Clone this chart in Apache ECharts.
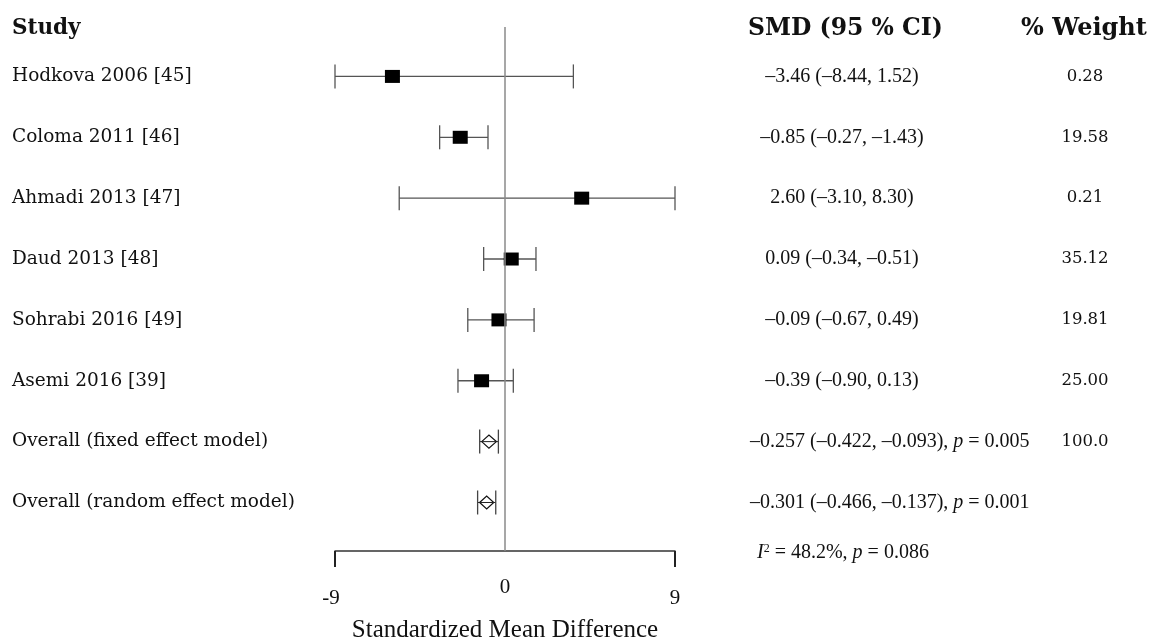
<!DOCTYPE html>
<html>
<head>
<meta charset="utf-8">
<script src="https://cdn.jsdelivr.net/npm/echarts@6/dist/echarts.min.js"></script>
<style>html,body{margin:0;padding:0;background:#fff}#c{width:1150px;height:641px}</style>
</head>
<body>
<div id="c"></div>
<script>
// ---- data ----
const studies = ['Hodkova 2006 [45]', 'Coloma 2011 [46]', 'Ahmadi 2013 [47]', 'Daud 2013 [48]', 'Sohrabi 2016 [49]', 'Asemi 2016 [39]'];
const smdPoint = [-5.96, -2.37, 4.06, 0.33, -0.32, -1.24];
const ciLow = [-9.0, -3.46, -5.60, -1.13, -1.97, -2.49];
const ciHigh = [3.62, -0.90, 9.0, 1.64, 1.54, 0.44];
const smdText = ['–3.46 (–8.44, 1.52)', '–0.85 (–0.27, –1.43)', '2.60 (–3.10, 8.30)', '0.09 (–0.34, –0.51)', '–0.09 (–0.67, 0.49)', '–0.39 (–0.90, 0.13)'];
const weightText = ['0.28', '19.58', '0.21', '35.12', '19.81', '25.00', '100.0'];
const summaryNames = ['Overall (fixed effect model)', 'Overall (random effect model)'];
const summaryPoint = [-0.85, -0.97];
const summaryLow = [-1.34, -1.45];
const summaryHigh = [-0.35, -0.49];
const summaryEst = ['–0.257 (–0.422, –0.093), ', '–0.301 (–0.466, –0.137), '];
const summaryP = ['0.005', '0.001'];
const heterogeneityI2 = '48.2%';
const heterogeneityP = '0.086';
const xTicks = [-9, 0, 9];
const xEndTicks = [-9, 9];
const headers = ['Study', 'SMD (95 % CI)', '% Weight'];
const axisTitle = 'Standardized Mean Difference';

// ---- build ----
const rowLabels = studies.concat(summaryNames);
const rowIdx = rowLabels.map((_, i) => i);
const studyData = studies.map((s, i) => [i, ciLow[i], ciHigh[i], smdPoint[i]]);
const summaryData = summaryNames.map((s, k) => [studies.length + k, summaryLow[k], summaryHigh[k], summaryPoint[k]]);

const serifT = 'Liberation Serif';
const serifW = 'DejaVu Serif';
const yMin = -0.812, yMax = 7.797;

function baseY(extra) {
  return Object.assign({
    type: 'value', inverse: true, min: yMin, max: yMax,
    axisLine: {show: false}, axisTick: {show: false}, splitLine: {show: false}
  }, extra);
}

const chart = echarts.init(document.getElementById('c'));
chart.setOption({
  backgroundColor: '#fff',
  animation: false,
  grid: {left: 335, right: 475, top: 27, bottom: 90, outerBoundsMode: 'none'},
  xAxis: {
    type: 'value', min: -9, max: 9,
    splitLine: {show: false},
    axisLine: {show: true, onZero: false, lineStyle: {color: '#333', width: 1.5}},
    axisTick: {show: true, customValues: xEndTicks, length: 16, lineStyle: {color: '#222', width: 2}},
    axisLabel: {
      customValues: xTicks, margin: 26, color: '#111',
      fontFamily: serifT, fontSize: 21,
      formatter: v => v === 0 ? '{z|0}' : (v < 0 ? '{l|' + v + '}' : '{r|' + v + '}'),
      rich: {
        z: {fontFamily: serifT, fontSize: 21, color: '#111'},
        l: {fontFamily: serifT, fontSize: 21, color: '#111', padding: [11, 8, 0, 0]},
        r: {fontFamily: serifT, fontSize: 21, color: '#111', padding: [11, 0, 0, 0]}
      }
    },
    name: axisTitle, nameLocation: 'middle', nameGap: 67,
    nameTextStyle: {fontFamily: serifT, fontSize: 25, color: '#111'}
  },
  yAxis: [
    baseY({
      position: 'left',
      axisLabel: {
        customValues: rowIdx, align: 'left', margin: 323,
        fontFamily: serifW, fontSize: 18.5, color: '#111',
        formatter: v => rowLabels[Math.round(v)] || ''
      }
    }),
    baseY({
      position: 'right',
      axisLabel: {
        customValues: rowIdx, align: 'left', margin: 75,
        fontFamily: serifT, fontSize: 20, color: '#111',
        formatter: v => {
          const i = Math.round(v);
          if (i < studies.length) return '{c|' + smdText[i] + '}';
          const k = i - studies.length;
          return '{n|' + summaryEst[k] + '}{i|p}{n| = ' + summaryP[k] + '}';
        },
        rich: {
          c: {width: 184, align: 'center', fontFamily: serifT, fontSize: 20, color: '#111'},
          n: {fontFamily: serifT, fontSize: 20, color: '#111'},
          i: {fontFamily: serifT, fontSize: 20, fontStyle: 'italic', color: '#111'}
        }
      }
    }),
    baseY({
      position: 'right',
      axisLabel: {
        customValues: rowIdx.slice(0, weightText.length), align: 'center', margin: 410,
        fontFamily: serifW, fontSize: 16.5, color: '#111',
        formatter: v => weightText[Math.round(v)] || ''
      }
    })
  ],
  graphic: [
    {type: 'text', left: 12, top: 17, style: {text: headers[0], font: 'bold 21.5px "DejaVu Serif"', fill: '#111'}},
    {type: 'text', left: 748, top: 17, style: {text: headers[1], font: 'bold 23.5px "DejaVu Serif"', fill: '#111'}},
    {type: 'text', left: 1021, top: 17, style: {text: headers[2], font: 'bold 24px "DejaVu Serif"', fill: '#111'}},
    {type: 'text', left: 757, top: 543, style: {
      rich: {
        i: {fontFamily: serifT, fontSize: 20, fontStyle: 'italic', fill: '#111'},
        s: {fontFamily: serifT, fontSize: 12, fill: '#111', verticalAlign: 'top'},
        n: {fontFamily: serifT, fontSize: 20, fill: '#111'}
      },
      text: '{i|I}{s|2}{n| = ' + heterogeneityI2 + ', }{i|p}{n| = ' + heterogeneityP + '}'
    }}
  ],
  series: [
    {
      type: 'custom', name: 'studies', yAxisIndex: 0,
      encode: {x: [1, 2, 3], y: 0},
      data: studyData,
      renderItem: (params, api) => {
        const y = api.value(0);
        const pL = api.coord([api.value(1), y]);
        const pH = api.coord([api.value(2), y]);
        const pP = api.coord([api.value(3), y]);
        const cap = 12;
        const ls = {stroke: '#555', lineWidth: 1.3};
        return {type: 'group', children: [
          {type: 'line', shape: {x1: pL[0], y1: pL[1], x2: pH[0], y2: pH[1]}, style: ls},
          {type: 'line', shape: {x1: pL[0], y1: pL[1] - cap, x2: pL[0], y2: pL[1] + cap}, style: ls},
          {type: 'line', shape: {x1: pH[0], y1: pH[1] - cap, x2: pH[0], y2: pH[1] + cap}, style: ls},
          {type: 'rect', shape: {x: pP[0] - 7.5, y: pP[1] - 6.5, width: 15, height: 13}, style: {fill: '#000'}}
        ]};
      },
      markLine: {
        silent: true, symbol: 'none', label: {show: false},
        lineStyle: {color: '#8a8a8a', width: 1.5, type: 'solid'},
        data: [{xAxis: 0}]
      }
    },
    {
      type: 'custom', name: 'summary', yAxisIndex: 0,
      encode: {x: [1, 2, 3], y: 0},
      data: summaryData,
      renderItem: (params, api) => {
        const y = api.value(0);
        const pL = api.coord([api.value(1), y]);
        const pH = api.coord([api.value(2), y]);
        const pP = api.coord([api.value(3), y]);
        const cap = 12;
        const ls = {stroke: '#444', lineWidth: 1.3};
        return {type: 'group', children: [
          {type: 'polygon', shape: {points: [[pL[0] + 2, pL[1]], [pP[0], pP[1] - 6.5], [pH[0] - 2, pH[1]], [pP[0], pP[1] + 6.5]]},
            style: {fill: '#fff', stroke: '#111', lineWidth: 1.2}},
          {type: 'line', shape: {x1: pL[0], y1: pL[1], x2: pH[0], y2: pH[1]}, style: {stroke: '#222', lineWidth: 1}},
          {type: 'line', shape: {x1: pL[0], y1: pL[1] - cap, x2: pL[0], y2: pL[1] + cap}, style: ls},
          {type: 'line', shape: {x1: pH[0], y1: pH[1] - cap, x2: pH[0], y2: pH[1] + cap}, style: ls}
        ]};
      }
    }
  ]
});
</script>
</body>
</html>
